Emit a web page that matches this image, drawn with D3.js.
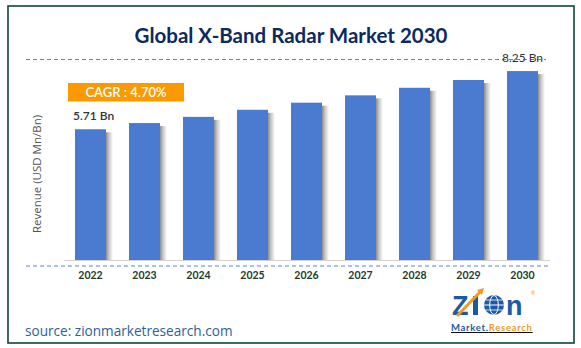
<!DOCTYPE html>
<html><head><meta charset="utf-8">
<script src="https://cdn.jsdelivr.net/npm/d3@7/dist/d3.min.js"></script>
<style>body{margin:0;background:#fff}svg{display:block}</style>
</head><body>
<svg id="c" width="581" height="348"></svg>
<script>
const years = ["2022","2023","2024","2025","2026","2027","2028","2029","2030"];
const revenue = [5.71, 5.98, 6.25, 6.56, 6.87, 7.19, 7.52, 7.86, 8.25];
const firstLabel = "5.71 Bn";
const lastLabel = "8.25 Bn";
const cagrText = "CAGR : 4.70%";
const titleText = "Global X-Band Radar Market 2030";
const yAxisTitle = "Revenue (USD Mn/Bn)";
const sourceText = "source: zionmarketresearch.com";

const svg = d3.select("#c");
const F = "Lato, 'Open Sans', sans-serif";

// border
svg.append("rect").attr("x",8).attr("y",6).attr("width",566).attr("height",337)
  .attr("fill","#fff").attr("stroke","#0f4536").attr("stroke-width",1.6);

const x = d3.scaleBand().domain(years).range([63.5, 549.5]).paddingInner(23/54).paddingOuter(23/108);
const y = d3.scaleLinear().domain([0, 10]).range([260, 31]);

// title
svg.append("text").attr("x",291).attr("y",43).attr("text-anchor","middle")
  .attr("font-family",F).attr("font-weight","bold").attr("font-size",20.5)
  .attr("fill","#0c2a5e").text(titleText);

// dashed top line
svg.append("line").attr("x1",26).attr("x2",546).attr("y1",59.5).attr("y2",59.5)
  .attr("stroke","#5b84cc").attr("stroke-width",1).attr("stroke-dasharray","4,3");

// gradient for shadow
const defs = svg.append("defs");
const g = defs.append("linearGradient").attr("id","sh").attr("x1","0").attr("x2","1").attr("y1","0").attr("y2","0");
g.append("stop").attr("offset","0").attr("stop-color","#8c8c8c");
g.append("stop").attr("offset","0.4").attr("stop-color","#c4c4c4");
g.append("stop").attr("offset","1").attr("stop-color","#ffffff");

// shadows
svg.append("g").selectAll("rect").data(years).join("rect")
  .attr("x", d => x(d) + x.bandwidth())
  .attr("y", (d,i) => y(revenue[i]) + 3)
  .attr("width", 7)
  .attr("height", (d,i) => 260 - y(revenue[i]) - 3)
  .attr("fill","url(#sh)");

// bars
svg.append("g").selectAll("rect").data(years).join("rect")
  .attr("x", d => x(d))
  .attr("y", (d,i) => y(revenue[i]))
  .attr("width", x.bandwidth())
  .attr("height", (d,i) => 260 - y(revenue[i]))
  .attr("fill","#4a7bd0");

// axis baseline (gray)
const xAxis = d3.axisBottom(x).tickSize(0).tickPadding(10);
const ax = svg.append("g").attr("transform","translate(0,260)").call(xAxis);
ax.select(".domain").attr("stroke","#d3d3d3").attr("stroke-width",1.2);
ax.selectAll("text").attr("font-family",F).attr("font-weight","bold").attr("font-size",10.5)
  .attr("fill","#1d3b30").attr("dy","0.85em");

// bottom dashed line
svg.append("line").attr("x1",26).attr("x2",549).attr("y1",266).attr("y2",266)
  .attr("stroke","#5b84cc").attr("stroke-width",1).attr("stroke-dasharray","4,3");

// value labels
svg.append("text").attr("x", x(years[0]) - 2).attr("y", y(revenue[0]) - 9)
  .attr("font-family",F).attr("font-size",12).attr("font-weight","600").attr("fill","#333").text(firstLabel);
svg.append("text").attr("x", x(years[8]) + x.bandwidth()/2).attr("y", y(revenue[8]) - 9)
  .attr("text-anchor","middle")
  .attr("font-family",F).attr("font-size",12).attr("fill","#333").text(lastLabel);

// CAGR box
svg.append("rect").attr("x",68).attr("y",83).attr("width",116).attr("height",18.5).attr("fill","#fb9a00");
svg.append("text").attr("x",126).attr("y",97.3).attr("text-anchor","middle")
  .attr("font-family",F).attr("font-size",13).attr("font-weight","600").attr("fill","#fff").text(cagrText);

// y axis title
svg.append("text").attr("transform","translate(41,174) rotate(-90)").attr("text-anchor","middle")
  .attr("font-family","'Open Sans', sans-serif").attr("font-size",11.5).attr("fill","#555").text(yAxisTitle);

// source
svg.append("text").attr("x",25).attr("y",336).attr("font-family","'Open Sans', sans-serif").attr("font-size",13.6)
  .attr("fill","#2d5f9e").text(sourceText);

// logo
const lg = svg.append("g");
lg.append("text").attr("x",452).attr("y",315).attr("font-family","'Liberation Sans', Arial, sans-serif")
  .attr("font-weight","bold").attr("font-size",27).attr("fill","#1c5aa6").text("Z");
lg.append("rect").attr("x",473).attr("y",296).attr("width",5).attr("height",19).attr("fill","#1c5aa6");
lg.append("path").attr("d","M457,316 L481,291").attr("stroke","#f39a1e").attr("stroke-width",3);
lg.append("path").attr("d","M477,290 L484,288 L482,295 Z").attr("fill","#f39a1e");
lg.append("circle").attr("cx",494).attr("cy",305).attr("r",10).attr("fill","#1c5aa6");
lg.append("ellipse").attr("cx",494).attr("cy",305).attr("rx",4.3).attr("ry",9.5).attr("fill","none").attr("stroke","#fff").attr("stroke-width",1);
lg.append("line").attr("x1",484).attr("x2",504).attr("y1",305).attr("y2",305).attr("stroke","#fff").attr("stroke-width",1);
lg.append("line").attr("x1",485.5).attr("x2",502.5).attr("y1",300).attr("y2",300).attr("stroke","#fff").attr("stroke-width",0.8);
lg.append("line").attr("x1",485.5).attr("x2",502.5).attr("y1",310).attr("y2",310).attr("stroke","#fff").attr("stroke-width",0.8);
lg.append("text").attr("x",506).attr("y",315).attr("font-family","'Liberation Sans', Arial, sans-serif")
  .attr("font-weight","bold").attr("font-size",27).attr("fill","#1c5aa6").text("n");
lg.append("text").attr("x",531).attr("y",295).attr("font-family",F).attr("font-size",5).attr("fill","#f39a1e").text("®");
const mr = lg.append("text").attr("x",451).attr("y",331).attr("font-family",F).attr("font-weight","bold").attr("font-size",9.5)
  .attr("letter-spacing",0.7).attr("text-decoration","underline");
mr.append("tspan").attr("fill","#1c5aa6").text("Market.");
mr.append("tspan").attr("fill","#f39a1e").text("Research");
</script>
</body></html>
